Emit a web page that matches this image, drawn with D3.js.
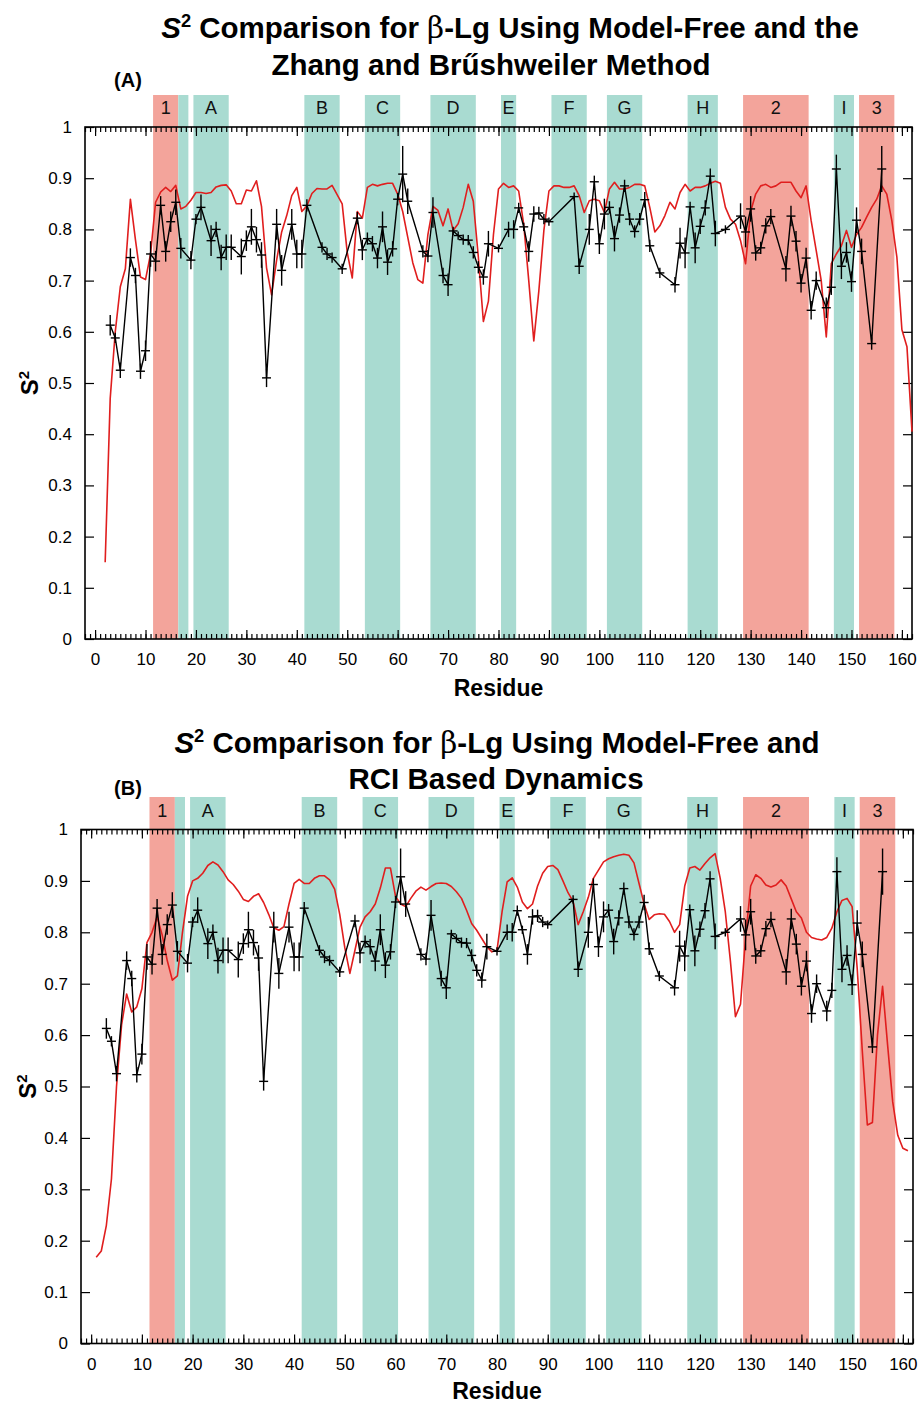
<!DOCTYPE html>
<html>
<head>
<meta charset="utf-8">
<script src="https://cdn.jsdelivr.net/npm/d3@7"></script>
<style>
  body { margin: 0; background: #fff; }
  text { font-family: "Liberation Sans", Arial, Helvetica, sans-serif; }
</style>
</head>
<body>
<svg id="fig" width="923" height="1405"></svg>
<script>
// ---- Experimental model-free S2 (same set in both panels) ----
const mfResidue = [3,4,5,7,8,9,10,11,12,13,14,15,16,17,19,20,21,23,24,25,26,27,29,30,31,32,33,34,36,37,39,40,41,42,45,46,47,49,52,53,54,55,56,57,58,59,60,61,62,65,66,67,69,70,71,72,73,74,75,76,77,78,80,82,83,84,85,86,87,88,89,90,95,96,98,99,100,101,102,103,104,105,106,107,108,109,110,112,115,116,117,118,119,120,121,122,123,125,128,129,130,131,132,133,134,137,138,139,140,141,142,143,145,146,147,148,149,150,151,152,154,156];
const mfS2 = [0.613,0.588,0.525,0.745,0.71,0.523,0.563,0.752,0.738,0.847,0.757,0.815,0.853,0.763,0.74,0.82,0.843,0.778,0.80,0.745,0.765,0.765,0.747,0.778,0.805,0.78,0.75,0.51,0.81,0.72,0.81,0.752,0.752,0.847,0.765,0.752,0.745,0.723,0.822,0.76,0.782,0.772,0.744,0.805,0.736,0.762,0.859,0.908,0.855,0.757,0.748,0.833,0.71,0.692,0.797,0.788,0.78,0.779,0.755,0.726,0.707,0.772,0.763,0.80,0.80,0.842,0.805,0.757,0.83,0.832,0.82,0.815,0.864,0.728,0.80,0.893,0.772,0.83,0.843,0.782,0.828,0.885,0.82,0.796,0.82,0.858,0.768,0.715,0.692,0.773,0.754,0.844,0.764,0.806,0.842,0.904,0.792,0.80,0.826,0.795,0.84,0.754,0.764,0.807,0.825,0.723,0.826,0.777,0.695,0.744,0.642,0.70,0.647,0.687,0.918,0.728,0.755,0.698,0.818,0.757,0.577,0.918];
const mfErr = [0.02,0.01,0.015,0.018,0.015,0.015,0.02,0.025,0.02,0.018,0.02,0.02,0.025,0.02,0.018,0.01,0.025,0.03,0.015,0.025,0.025,0.025,0.035,0.02,0.035,0.025,0.025,0.018,0.03,0.03,0.03,0.028,0.028,0.012,0.01,0.012,0.01,0.01,0.012,0.02,0.012,0.015,0.02,0.03,0.025,0.015,0.012,0.055,0.025,0.012,0.012,0.03,0.015,0.022,0.008,0.008,0.01,0.01,0.012,0.012,0.015,0.025,0.008,0.015,0.018,0.01,0.008,0.02,0.015,0.012,0.01,0.008,0.008,0.015,0.03,0.012,0.02,0.03,0.012,0.025,0.015,0.012,0.012,0.012,0.012,0.015,0.012,0.01,0.015,0.03,0.03,0.01,0.03,0.015,0.015,0.015,0.025,0.008,0.025,0.03,0.025,0.015,0.012,0.015,0.015,0.025,0.02,0.02,0.018,0.02,0.018,0.018,0.02,0.015,0.028,0.025,0.02,0.02,0.025,0.025,0.012,0.045];

// ---- Zhang & Brüschweiler contact-model S2 (panel A) ----
const zbResidue = d3.range(2, 163);
const zbS2 = [0.15,0.47,0.60,0.688,0.723,0.859,0.78,0.707,0.702,0.752,0.853,0.873,0.882,0.874,0.886,0.84,0.845,0.857,0.872,0.872,0.87,0.872,0.883,0.886,0.887,0.875,0.85,0.85,0.877,0.875,0.895,0.845,0.725,0.672,0.74,0.795,0.827,0.866,0.882,0.835,0.846,0.87,0.88,0.879,0.879,0.886,0.868,0.85,0.755,0.705,0.835,0.822,0.882,0.888,0.885,0.888,0.89,0.89,0.869,0.835,0.785,0.735,0.702,0.695,0.79,0.845,0.837,0.807,0.84,0.798,0.811,0.843,0.888,0.855,0.746,0.62,0.66,0.79,0.879,0.89,0.882,0.885,0.875,0.81,0.70,0.582,0.68,0.798,0.875,0.885,0.885,0.882,0.882,0.885,0.866,0.833,0.856,0.859,0.856,0.833,0.879,0.892,0.879,0.879,0.882,0.888,0.888,0.885,0.843,0.795,0.807,0.827,0.853,0.84,0.872,0.888,0.875,0.882,0.882,0.885,0.89,0.894,0.89,0.843,0.82,0.81,0.778,0.733,0.835,0.869,0.885,0.888,0.882,0.885,0.892,0.892,0.892,0.875,0.862,0.885,0.817,0.759,0.70,0.59,0.733,0.752,0.768,0.798,0.765,0.79,0.804,0.824,0.843,0.859,0.885,0.869,0.817,0.746,0.604,0.571,0.405];

// ---- RCI-derived S2 (panel B) ----
const rciResidue = d3.range(1, 162);
const rciS2 = [0.168,0.18,0.23,0.32,0.50,0.62,0.68,0.645,0.655,0.69,0.78,0.80,0.83,0.795,0.745,0.707,0.715,0.80,0.87,0.90,0.905,0.915,0.93,0.937,0.931,0.918,0.902,0.893,0.88,0.864,0.86,0.87,0.875,0.858,0.835,0.809,0.804,0.811,0.855,0.895,0.903,0.895,0.895,0.905,0.91,0.91,0.902,0.884,0.835,0.77,0.72,0.765,0.81,0.83,0.84,0.855,0.886,0.925,0.925,0.87,0.855,0.85,0.866,0.88,0.888,0.882,0.889,0.895,0.896,0.895,0.889,0.879,0.866,0.843,0.817,0.804,0.788,0.772,0.762,0.765,0.84,0.898,0.906,0.888,0.859,0.846,0.855,0.89,0.915,0.928,0.93,0.922,0.90,0.877,0.86,0.815,0.84,0.868,0.905,0.921,0.937,0.943,0.947,0.95,0.952,0.95,0.935,0.895,0.855,0.825,0.834,0.836,0.835,0.821,0.80,0.815,0.89,0.925,0.928,0.921,0.934,0.945,0.953,0.905,0.84,0.745,0.636,0.66,0.79,0.89,0.912,0.905,0.892,0.888,0.892,0.902,0.89,0.865,0.84,0.828,0.80,0.79,0.787,0.785,0.79,0.808,0.84,0.862,0.866,0.85,0.73,0.57,0.425,0.43,0.60,0.695,0.58,0.47,0.405,0.38,0.375];

// ---- Secondary-structure bands (residue ranges) ----
const bandStart = [11.5,16.5,19.5,41.5,53.5,66.5,80.5,90.5,101.5,117.5,128.5,146.5,151.5];
const bandEnd   = [16.5,18.5,26.5,48.5,60.5,75.5,83.5,97.5,108.5,123.5,141.5,150.5,158.5];
const bandLabel = ["1","","A","B","C","D","E","F","G","H","2","I","3"];
const bandType  = ["helix","strand","strand","strand","strand","strand","strand","strand","strand","strand","helix","strand","helix"];

// ---- Axis ticks ----
const xMajorTicks = d3.range(0, 161, 10);
const xMinorTicks = d3.range(-2, 163, 1);
const yTicks = [0,0.1,0.2,0.3,0.4,0.5,0.6,0.7,0.8,0.9,1];
const yTickLabels = ["0","0.1","0.2","0.3","0.4","0.5","0.6","0.7","0.8","0.9","1"];

const colors = { helix: "#f3a49b", strand: "#a9dbd1", model: "#e01e1e", exp: "#000" };

const svg = d3.select("#fig");

function drawPanel(cfg) {
  const g = svg.append("g");
  const x = d3.scaleLinear().domain([-2, 162]).range(cfg.xRange);
  const y = d3.scaleLinear().domain([0, 1]).range(cfg.yRange);
  const y0 = y(0), y1 = y(1);

  // title
  const t1 = g.append("text").attr("x", cfg.titleX1).attr("y", cfg.titleY1)
    .attr("text-anchor", "middle").attr("font-size", cfg.titleSize).attr("font-weight", "bold");
  t1.append("tspan").attr("font-style", "italic").text("S");
  t1.append("tspan").attr("font-size", cfg.titleSize * 0.62).attr("dy", -cfg.titleSize * 0.38).text("2");
  t1.append("tspan").attr("dy", cfg.titleSize * 0.38).text(" Comparison for ");
  t1.append("tspan").attr("font-family", "'DejaVu Serif', 'Liberation Serif', serif").attr("font-weight", "normal").text("β");
  t1.append("tspan").text(cfg.title1Rest);
  g.append("text").attr("x", cfg.titleX2).attr("y", cfg.titleY2)
    .attr("text-anchor", "middle").attr("font-size", cfg.titleSize).attr("font-weight", "bold")
    .text(cfg.title2);

  g.append("text").attr("x", cfg.tagX).attr("y", cfg.tagY).attr("text-anchor", "middle")
    .attr("font-size", 20).attr("font-weight", "bold").text(cfg.tag);

  // shaded secondary-structure bands
  const bands = bandStart.map((s, i) => ({ s, e: bandEnd[i], label: bandLabel[i], type: bandType[i] }));
  g.selectAll(".band").data(bands).join("rect")
    .attr("x", d => x(d.s)).attr("width", d => x(d.e) - x(d.s))
    .attr("y", cfg.bandTop).attr("height", y0 - cfg.bandTop)
    .attr("fill", d => colors[d.type]);
  g.selectAll(".blab").data(bands).join("text")
    .attr("x", d => (x(d.s) + x(d.e)) / 2).attr("y", cfg.bandLabelY)
    .attr("text-anchor", "middle").attr("font-size", 18).attr("fill", "#111")
    .text(d => d.label);

  // axes (ticks point inward, mirrored on all four sides)
  const styleAxis = sel => { sel.select(".domain").remove(); sel.selectAll("line").attr("stroke", "#000").attr("stroke-width", 1.2); };
  g.append("g").attr("transform", `translate(0,${y0})`)
    .call(d3.axisBottom(x).tickValues(xMajorTicks).tickSize(-9).tickPadding(14).tickFormat(d3.format("d")))
    .call(styleAxis)
    .selectAll("text").attr("font-size", 17).attr("font-family", "'Liberation Sans', Arial, sans-serif").attr("fill", "#000");
  g.append("g").attr("transform", `translate(0,${y0})`)
    .call(d3.axisBottom(x).tickValues(xMinorTicks).tickSize(-5).tickFormat(""))
    .call(styleAxis);
  g.append("g").attr("transform", `translate(0,${y1})`)
    .call(d3.axisTop(x).tickValues(xMajorTicks).tickSize(-9).tickFormat(""))
    .call(styleAxis);
  g.append("g").attr("transform", `translate(0,${y1})`)
    .call(d3.axisTop(x).tickValues(xMinorTicks).tickSize(-5).tickFormat(""))
    .call(styleAxis);
  g.append("g").attr("transform", `translate(${cfg.xRange[0]},0)`)
    .call(d3.axisLeft(y).tickValues(yTicks).tickSize(-9).tickPadding(13).tickFormat((d, i) => yTickLabels[i]))
    .call(styleAxis)
    .selectAll("text").attr("font-size", 17).attr("font-family", "'Liberation Sans', Arial, sans-serif").attr("fill", "#000");
  g.append("g").attr("transform", `translate(${cfg.xRange[1]},0)`)
    .call(d3.axisRight(y).tickValues(yTicks).tickSize(-9).tickFormat(""))
    .call(styleAxis);

  // frame
  g.append("rect").attr("x", cfg.xRange[0]).attr("y", y1)
    .attr("width", cfg.xRange[1] - cfg.xRange[0]).attr("height", y0 - y1)
    .attr("fill", "none").attr("stroke", "#000").attr("stroke-width", 1.6);

  // axis titles
  const yl = g.append("text").attr("transform", `translate(${cfg.yLabelX},${(y0 + y1) / 2}) rotate(-90)`)
    .attr("text-anchor", "middle").attr("font-size", 24).attr("font-weight", "bold");
  yl.append("tspan").text("S");
  yl.append("tspan").attr("font-size", 15).attr("dy", -9).text("2");
  g.append("text").attr("x", (cfg.xRange[0] + cfg.xRange[1]) / 2).attr("y", cfg.xLabelY)
    .attr("text-anchor", "middle").attr("font-size", 23).attr("font-weight", "bold").text("Residue");

  // model prediction (red)
  const modelPts = cfg.modelRes.map((r, i) => [r, cfg.modelS2[i]]);
  g.append("path").datum(modelPts)
    .attr("d", d3.line().x(d => x(d[0])).y(d => y(d[1])))
    .attr("fill", "none").attr("stroke", colors.model).attr("stroke-width", 1.6).attr("stroke-linejoin", "round");

  // experimental S2 with error bars (black)
  const exp = mfResidue.map((r, i) => ({ r, v: mfS2[i], e: mfErr[i] }));
  g.append("path").datum(exp)
    .attr("d", d3.line().x(d => x(d.r)).y(d => y(d.v)))
    .attr("fill", "none").attr("stroke", colors.exp).attr("stroke-width", 1.4);
  g.selectAll(".err").data(exp).join("line")
    .attr("x1", d => x(d.r)).attr("x2", d => x(d.r))
    .attr("y1", d => Math.min(y(d.v + d.e), y(d.v) - 4)).attr("y2", d => Math.max(y(d.v - d.e), y(d.v) + 4))
    .attr("stroke", "#000").attr("stroke-width", 1.4);
  g.selectAll(".pt").data(exp).join("line")
    .attr("x1", d => x(d.r) - 4.5).attr("x2", d => x(d.r) + 4.5)
    .attr("y1", d => y(d.v)).attr("y2", d => y(d.v))
    .attr("stroke", "#000").attr("stroke-width", 1.4);
}

drawPanel({
  xRange: [85, 912], yRange: [639, 127],
  titleSize: 29.5, titleX1: 510, titleY1: 38, titleX2: 491, titleY2: 75,
  title1Rest: "-Lg Using Model-Free and the", title2: "Zhang and Brűshweiler Method",
  tag: "(A)", tagX: 128, tagY: 87,
  bandTop: 95, bandLabelY: 114,
  yLabelX: 38, xLabelY: 696,
  modelRes: zbResidue, modelS2: zbS2
});

drawPanel({
  xRange: [81, 913], yRange: [1343.5, 829.5],
  titleSize: 29.5, titleX1: 497, titleY1: 753, titleX2: 496, titleY2: 789,
  title1Rest: "-Lg Using Model-Free and", title2: "RCI Based Dynamics",
  tag: "(B)", tagX: 128, tagY: 795,
  bandTop: 797, bandLabelY: 817,
  yLabelX: 36, xLabelY: 1399,
  modelRes: rciResidue, modelS2: rciS2
});
</script>
</body>
</html>
